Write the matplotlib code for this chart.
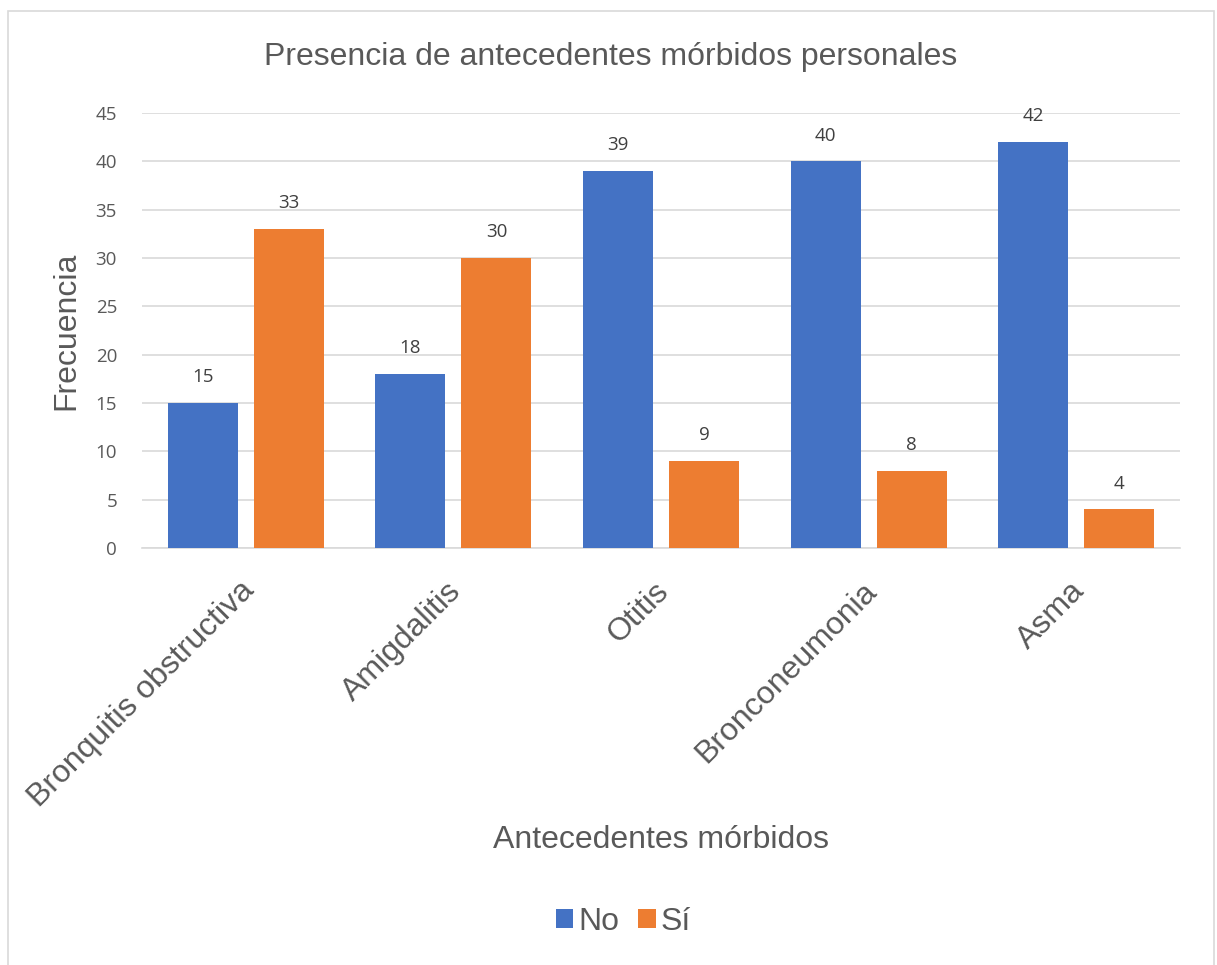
import numpy as np
import matplotlib.pyplot as plt
from matplotlib.patches import Rectangle
from matplotlib.transforms import ScaledTranslation

categorias = ['Bronquitis obstructiva', 'Amigdalitis', 'Otitis', 'Bronconeumonia', 'Asma']
no_vals = [15, 18, 39, 40, 42]
si_vals = [33, 30, 9, 8, 4]
yticks = [0, 5, 10, 15, 20, 25, 30, 35, 40, 45]

azul = '#4472C4'
naranjo = '#ED7D31'
gris_texto = '#595959'

fig = plt.figure(figsize=(12.17, 9.65), dpi=100)
ax = fig.add_axes([0.1167, 0.432, 0.853, 0.451])

# marco exterior del grafico
fig.patches.append(Rectangle((8 / 1217, -0.01), 1206 / 1217, 1 - 11 / 965 + 0.01,
                             transform=fig.transFigure, fill=False,
                             edgecolor='#D9D9D9', linewidth=1.2))

x = np.arange(len(categorias))
ancho = 0.337
desp = 0.207
b1 = ax.bar(x - desp, no_vals, ancho, color=azul, label='No', zorder=3)
b2 = ax.bar(x + desp, si_vals, ancho, color=naranjo, label='Sí', zorder=3)

for barras in (b1, b2):
    ax.bar_label(barras, padding=12, fontsize=13.5, color='#404040', family='Open Sans')

ax.set_xlim(-0.5, len(categorias) - 0.5)
ax.set_ylim(0, 45)
ax.set_yticks(yticks)
ax.set_yticklabels([str(v) for v in yticks], fontsize=13.5, color=gris_texto, family='Open Sans')
ax.yaxis.grid(True, color='#D9D9D9', linewidth=1.2, zorder=0)
ax.tick_params(axis='y', length=0, pad=18)
ax.tick_params(axis='x', length=0, pad=20)
ax.set_xticks(x)
ax.set_xticklabels(categorias, rotation=45, ha='right', rotation_mode='anchor',
                   fontsize=23, color=gris_texto, family='Liberation Sans')
# corrimiento leve de las etiquetas rotadas hacia la izquierda
desplazamiento = ScaledTranslation(-7 / 100, 0, fig.dpi_scale_trans)
for etiqueta in ax.get_xticklabels():
    etiqueta.set_transform(etiqueta.get_transform() + desplazamiento)

for lado in ['left', 'right', 'top']:
    ax.spines[lado].set_visible(False)
ax.spines['bottom'].set_color('#D9D9D9')
ax.spines['bottom'].set_linewidth(1.2)

fig.text(0.502, 1 - 57 / 965, 'Presencia de antecedentes mórbidos personales', ha='center',
         va='center', fontsize=23, color=gris_texto, family='Liberation Sans')
ax.set_ylabel('Frecuencia', fontsize=23, color=gris_texto, family='Liberation Sans', labelpad=10)
fig.text(0.543, 1 - 840 / 965, 'Antecedentes mórbidos', ha='center', va='center', fontsize=23,
         color=gris_texto, family='Liberation Sans')

fig.legend(loc='center', bbox_to_anchor=(0.512, 1 - 922 / 965), ncol=2, frameon=False,
           prop={'family': 'Liberation Sans', 'size': 23}, labelcolor=gris_texto,
           handlelength=0.55, handleheight=0.55, handletextpad=0.15, columnspacing=0.6)

fig.savefig('out.png', dpi=100)
